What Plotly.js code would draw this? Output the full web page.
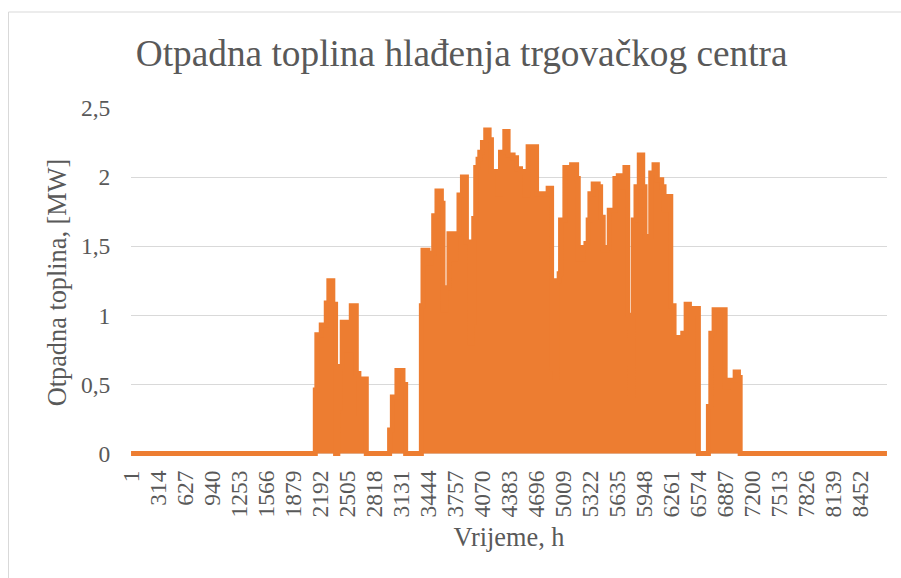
<!DOCTYPE html>
<html>
<head>
<meta charset="utf-8">
<script src="https://cdn.plot.ly/plotly-3.0.1.min.js"></script>
<style>
  html, body { margin: 0; padding: 0; background: #ffffff; }
  #chart { width: 901px; height: 578px; }
</style>
</head>
<body>
<div id="chart"></div>
<script>
// Hour at which each step starts and the heat value held from that hour on, MW
const hours = [
  1, 2136, 2154, 2205, 2263, 2293, 2339, 2371,
  2397, 2425, 2448, 2495, 2553, 2611, 2641, 2669, 2727,
  2997, 3029, 3082, 3152, 3183,
  3365, 3384, 3442, 3481, 3508, 3546, 3597, 3616, 3647, 3685, 3732, 3771, 3801, 3841,
  3887, 3926, 3952, 3972, 3995, 4022, 4042, 4073, 4111, 4150, 4177, 4254, 4282, 4332,
  4370, 4428, 4468, 4514, 4564, 4602, 4700, 4834, 4874, 4912, 4932, 4962, 4978, 5028,
  5106, 5164, 5183, 5240, 5272, 5298, 5318, 5356, 5414, 5442, 5472, 5512, 5542, 5608,
  5647, 5674, 5724, 5756, 5782, 5821, 5852, 5890, 5930, 5956, 6023, 6061, 6099, 6150,
  6177, 6227, 6255, 6293, 6394, 6433, 6471, 6517, 6575,
  6691, 6719, 6757, 6885, 6923, 7001, 7039, 7059,
  8760
];
const heatMW = [
  0, 0.46, 0.86, 0.93, 1.09, 1.25, 1.08, 0,
  0.33, 0.63, 0.95, 0.75, 1.07, 0.58, 0.29, 0.54, 0,
  0.17, 0.41, 0.60, 0.50, 0,
  1.07, 1.47, 1.38, 1.45, 1.72, 1.90, 1.81, 1.04, 1.20, 1.59, 1.41, 1.59, 1.87, 2.00,
  1.53, 0.80, 0.95, 1.70, 2.07, 2.13, 2.18, 2.25, 2.34, 2.27, 2.04, 1.88, 2.18, 2.33,
  2.16, 2.14, 2.06, 2.04, 1.87, 2.22, 1.88, 1.92, 0.61, 0.55, 1.25, 1.30, 1.69, 2.07,
  2.09, 1.99, 1.41, 1.49, 1.52, 1.69, 1.88, 1.95, 1.93, 1.71, 1.47, 1.49, 1.76, 1.99,
  2.01, 1.93, 2.07, 1.00, 0.42, 1.69, 1.93, 2.16, 1.93, 1.57, 2.03, 2.09, 1.98, 1.93,
  1.76, 1.86, 1.07, 0.84, 0.87, 1.08, 1.02, 1.05, 0,
  0.34, 0.87, 1.04, 0.48, 0.53, 0.59, 0.55, 0,
  0
];

const xTickVals = [1, 314, 627, 940, 1253, 1566, 1879, 2192, 2505, 2818, 3131, 3444, 3757, 4070,
  4383, 4696, 5009, 5322, 5635, 5948, 6261, 6574, 6887, 7200, 7513, 7826, 8139, 8452];
const xTickText = ['1', '314', '627', '940', '1253', '1566', '1879', '2192', '2505', '2818', '3131',
  '3444', '3757', '4070', '4383', '4696', '5009', '5322', '5635', '5948', '6261', '6574', '6887',
  '7200', '7513', '7826', '8139', '8452'];
const yTickVals = [0, 0.5, 1, 1.5, 2, 2.5];
const yTickText = ['0', '0,5', '1', '1,5', '2', '2,5'];

const orange = '#ED7D31';
const textGray = '#595959';
const gridGray = '#D9D9D9';
const serif = 'Liberation Serif, Times New Roman, serif';

const trace = {
  type: 'scatter',
  mode: 'lines',
  x: hours,
  y: heatMW,
  line: { color: orange, width: 5, shape: 'hv' },
  fill: 'tozeroy',
  fillcolor: orange,
  hoverinfo: 'x+y',
  showlegend: false
};

const layout = {
  width: 901,
  height: 578,
  paper_bgcolor: '#ffffff',
  plot_bgcolor: '#ffffff',
  margin: { l: 131, r: 14, t: 108, b: 121, pad: 0 },
  font: { family: serif, color: textGray, size: 23.5 },
  title: {
    text: 'Otpadna toplina hlađenja trgovačkog centra',
    font: { family: serif, size: 37.3, color: textGray },
    xref: 'container', yref: 'container',
    x: 461.7 / 901, xanchor: 'center',
    y: 1 - 53 / 578, yanchor: 'middle'
  },
  xaxis: {
    type: 'linear',
    range: [0.5, 8760.5],
    tickmode: 'array',
    tickvals: xTickVals,
    ticktext: xTickText,
    tickangle: -90,
    ticks: 'outside',
    ticklen: 3,
    tickcolor: 'rgba(0,0,0,0)',
    tickfont: { family: serif, size: 23.5, color: textGray },
    showgrid: false,
    zeroline: false,
    showline: false,
    automargin: false,
    fixedrange: true,
    title: { text: 'Vrijeme, h', font: { family: serif, size: 26.3, color: textGray }, standoff: 11 }
  },
  yaxis: {
    range: [-0.025, 2.5],
    tickmode: 'array',
    tickvals: yTickVals,
    ticktext: yTickText,
    ticks: 'outside',
    ticklen: 15,
    tickcolor: 'rgba(0,0,0,0)',
    tickfont: { family: serif, size: 23.5, color: textGray },
    showgrid: true,
    gridcolor: gridGray,
    gridwidth: 1,
    zeroline: false,
    showline: false,
    automargin: false,
    fixedrange: true,
    title: { text: 'Otpadna toplina, [MW]', font: { family: serif, size: 26.3, color: textGray }, standoff: 6 }
  },
  shapes: [
    {
      type: 'rect', xref: 'paper', yref: 'paper',
      x0: (8.5 - 131) / 756, x1: 1.2,
      y0: -0.6, y1: (456.5 - 11.5) / 349,
      line: { color: gridGray, width: 1 },
      fillcolor: 'rgba(0,0,0,0)',
      layer: 'below'
    }
  ]
};

Plotly.newPlot('chart', [trace], layout, { displayModeBar: false, staticPlot: true });
</script>
</body>
</html>
